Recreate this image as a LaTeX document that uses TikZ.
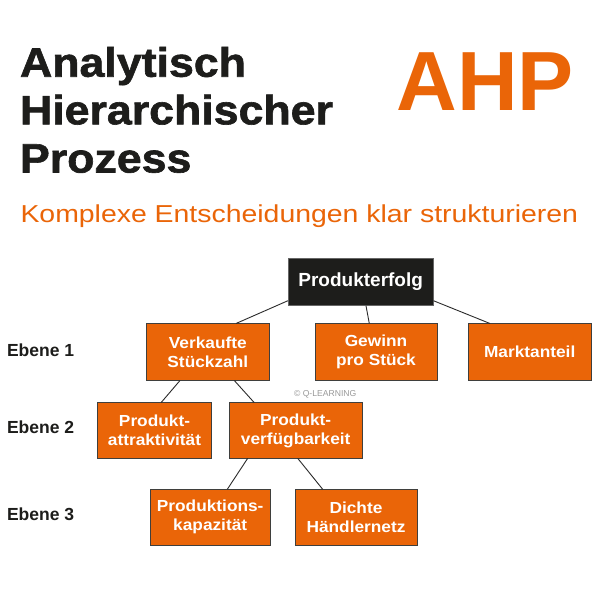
\documentclass[tikz,border=0pt]{standalone}
\usepackage{fontspec}
\setmainfont{Liberation Sans}
\newfontfamily\titlefont[FakeStretch=1.09,FakeBold=1.5]{Liberation Sans}
\newfontfamily\subfont[FakeStretch=1.16]{Liberation Sans}
\newfontfamily\boxfont[FakeStretch=1.08]{Liberation Sans}
\definecolor{ahporange}{HTML}{EA6508}
\definecolor{ahpdark}{HTML}{1D1D1B}
\definecolor{ahpline}{HTML}{2B2B2B}
\tikzset{
  txt/.style={inner sep=0pt, outer sep=0pt, anchor=base west},
  obox/.style={draw=ahpdark!85, line width=0.9pt, fill=ahporange, text=white,
     inner sep=0pt, outer sep=0pt, align=center, minimum height=57pt,
     font=\boxfont\bfseries\fontsize{16}{19}\selectfont},
  rootbox/.style={draw=black!60, line width=0.9pt, fill=ahpdark, text=white,
     inner sep=0pt, outer sep=0pt, minimum width=145.5pt, minimum height=47.4pt,
     font=\bfseries\fontsize{19}{22}\selectfont},
  conn/.style={draw=ahpline, line width=0.9pt},
  lvl/.style={inner sep=0pt, outer sep=0pt, anchor=base west, text=ahpdark,
     font=\bfseries\fontsize{17.5}{20}\selectfont}
}
\begin{document}
\begin{tikzpicture}[x=1pt,y=-1pt]
\useasboundingbox (0,0) rectangle (600,600);
\fill[white] (0,0) rectangle (600,600);

% title
\node[txt, text=ahpdark, font=\titlefont\bfseries\fontsize{41}{48}\selectfont] (t1) at (20,76.7) {Analytisch};
\node[txt, text=ahpdark, font=\titlefont\bfseries\fontsize{41}{48}\selectfont] (t2) at (20,124.3) {Hierarchischer};
\node[txt, text=ahpdark, font=\titlefont\bfseries\fontsize{41}{48}\selectfont] (t3) at (20,172.5) {Prozess};
\node[txt, text=ahporange, font=\bfseries\fontsize{84}{90}\selectfont] (ahp) at (396.7,110.7) {AHP};
\node[txt, text=ahporange, font=\subfont\fontsize{24.5}{28}\selectfont] (sub) at (20.5,222.3) {Komplexe Entscheidungen klar strukturieren};

% level labels
\node[lvl] (e1) at (7,356) {Ebene 1};
\node[lvl] (e2) at (7,433.3) {Ebene 2};
\node[lvl] (e3) at (7,520.7) {Ebene 3};

% boxes
\node[rootbox] (PE) at (360.7,282) {Produkterfolg};
\node[obox, minimum width=122.3pt] (VS) at (207.8,352) {Verkaufte\\Stückzahl};
\node[obox, minimum width=122pt] (GS) at (376,352) {Gewinn\\pro Stück};
\node[obox, minimum width=122.7pt] (MA) at (529.7,352) {Marktanteil};
\node[obox, minimum width=114.4pt, minimum height=55.6pt] (PA) at (154.5,430.5) {Produkt-\\attraktivität};
\node[obox, minimum width=132.7pt, minimum height=55.6pt] (PV) at (295.7,430.5) {Produkt-\\verfügbarkeit};
\node[obox, minimum width=120.3pt, minimum height=56pt] (PK) at (210.2,517.3) {Produktions-\\kapazität};
\node[obox, minimum width=122pt, minimum height=56pt] (DH) at (356,517.3) {Dichte\\Händlernetz};

% copyright
\node[inner sep=0pt, text=black!40, font=\fontsize{8.6}{10}\selectfont] (cr) at (325.2,394) {© Q-LEARNING};

% connectors
\draw[conn] ([yshift=5pt]PE.south west) -- ([xshift=28.2pt]VS.north);
\draw[conn] ([xshift=5.3pt]PE.south) -- ([xshift=-6.7pt]GS.north);
\draw[conn] ([yshift=5pt]PE.south east) -- ([xshift=-39.7pt]MA.north);
\draw[conn] ([xshift=-27.8pt]VS.south) -- ([xshift=6.5pt]PA.north);
\draw[conn] ([xshift=26.5pt]VS.south) -- ([xshift=-41.4pt]PV.north);
\draw[conn] ([xshift=-48pt]PV.south) -- ([xshift=17.1pt]PK.north);
\draw[conn] ([xshift=2pt]PV.south) -- ([xshift=-33.3pt]DH.north);
\end{tikzpicture}
\end{document}
